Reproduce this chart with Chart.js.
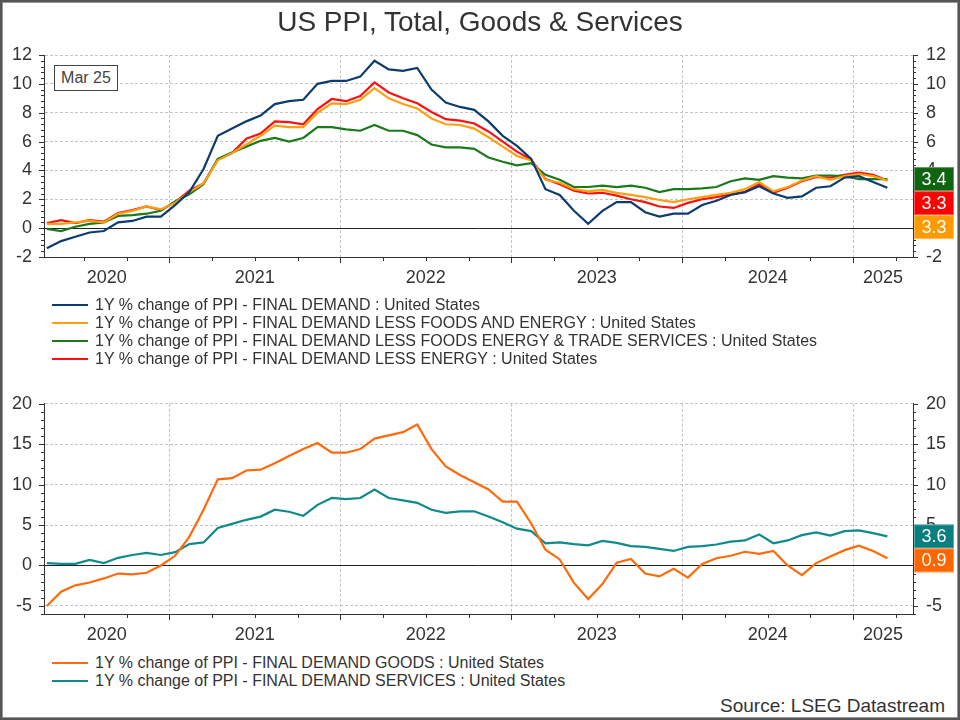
<!DOCTYPE html>
<html>
<head>
<meta charset="utf-8">
<script src="https://cdn.jsdelivr.net/npm/chart.js@4.4.1/dist/chart.umd.min.js"></script>
<style>
html,body{margin:0;padding:0;background:#fff;}
#frame{position:relative;width:960px;height:720px;overflow:hidden;background:#fff;font-family:"Liberation Sans",Arial,sans-serif;color:#333;}
#frameBorder{position:absolute;left:0;top:0;width:960px;height:720px;box-sizing:border-box;border:2px solid #555;box-shadow:0 0 0 1px #999 inset;pointer-events:none;z-index:5;}
canvas{position:absolute;left:0;}
#c1{top:0;}
#c2{top:380px;}
#title{position:absolute;left:0;width:960px;top:6px;text-align:center;font-size:28px;line-height:32px;color:#333;}
#stamp{position:absolute;left:54px;top:65px;width:64px;height:26px;box-sizing:border-box;border:1px solid #444;font-size:16px;line-height:24px;text-align:center;color:#444;background:#fff;z-index:3;}
.legend{position:absolute;left:52px;z-index:3;}
.row{height:18px;line-height:18px;font-size:16px;white-space:nowrap;color:#333;}
.sw{display:inline-block;width:36px;height:0;vertical-align:middle;margin-right:7px;position:relative;top:-1px;}
#leg1{top:296px;}
#leg2{top:654px;}
#source{position:absolute;right:15px;top:694px;font-size:19px;line-height:24px;color:#333;}
</style>
</head>
<body>
<div id="frame">
  <canvas id="c1" width="960" height="300"></canvas>
  <canvas id="c2" width="960" height="270"></canvas>
  <div id="title">US PPI, Total, Goods &amp; Services</div>
  <div id="stamp">Mar 25</div>
  <div class="legend" id="leg1"></div>
  <div class="legend" id="leg2"></div>
  <div id="source">Source: LSEG Datastream</div>
  <div id="frameBorder"></div>
</div>
<script>
// ---- Data: monthly, Apr 2020 .. Mar 2025 (1Y % change) ----
const firstMonth = 3;          // months after Jan 2020 (Apr 2020)
const yearLabels = ['2020','2021','2022','2023','2024','2025'];
const topTicks = [-2,0,2,4,6,8,10,12];
const bottomTicks = [-5,0,5,10,15,20];

const finalDemand = [-1.4,-0.9,-0.6,-0.3,-0.2,0.4,0.5,0.8,0.8,1.6,
  2.5,4.1,6.4,6.9,7.4,7.8,8.6,8.8,8.9,10.0,
  10.2,10.2,10.5,11.6,11.0,10.9,11.1,9.6,8.7,8.4,
  8.2,7.4,6.4,5.7,4.8,2.7,2.3,1.2,0.3,1.2,
  1.8,1.8,1.1,0.8,1.0,1.0,1.6,1.9,2.3,2.5,
  2.9,2.4,2.1,2.2,2.8,2.9,3.5,3.6,3.2,2.8];
const lessFoodsEnergy = [0.3,0.3,0.4,0.5,0.4,1.0,1.2,1.5,1.3,1.75,
  2.5,3.1,4.7,5.2,5.8,6.4,7.1,7.0,7.0,8.0,
  8.65,8.6,8.9,9.7,9.0,8.6,8.3,7.6,7.2,7.15,
  6.9,6.3,5.65,5.0,4.7,3.35,3.15,2.7,2.55,2.65,
  2.45,2.3,2.15,1.95,1.8,2.0,2.15,2.3,2.45,2.7,
  3.2,2.55,2.85,3.3,3.6,3.35,3.6,3.75,3.6,3.3];
const lessFoodsEnergyTrade = [-0.05,-0.2,0.1,0.3,0.4,0.85,0.9,1.0,1.2,1.85,
  2.35,3.05,4.8,5.25,5.65,6.05,6.25,6.0,6.25,7.0,
  7.0,6.85,6.75,7.15,6.75,6.75,6.45,5.8,5.6,5.6,
  5.5,4.9,4.6,4.35,4.5,3.7,3.35,2.85,2.85,2.95,
  2.85,2.95,2.8,2.5,2.7,2.7,2.75,2.85,3.25,3.45,
  3.35,3.6,3.5,3.45,3.65,3.65,3.6,3.4,3.4,3.4];
const lessEnergy = [0.35,0.55,0.35,0.55,0.45,1.05,1.25,1.5,1.25,1.8,
  2.6,3.1,4.75,5.2,6.2,6.55,7.4,7.35,7.2,8.25,
  8.95,8.8,9.15,10.1,9.4,9.0,8.65,8.05,7.55,7.45,
  7.25,6.7,6.0,5.3,4.75,3.4,3.05,2.6,2.4,2.45,
  2.25,2.0,1.8,1.5,1.4,1.75,2.0,2.15,2.35,2.5,
  3.05,2.45,2.8,3.25,3.55,3.5,3.7,3.85,3.7,3.3];
const goods = [-5.0,-3.25,-2.45,-2.1,-1.6,-1.0,-1.1,-0.9,0.0,1.2,
  3.55,6.9,10.65,10.8,11.75,11.85,12.65,13.55,14.4,15.15,
  13.95,13.95,14.4,15.7,16.1,16.5,17.45,14.4,12.25,11.2,
  10.3,9.4,7.9,7.9,5.2,1.95,0.75,-2.15,-4.15,-2.3,
  0.35,0.8,-1.0,-1.35,-0.4,-1.5,0.2,0.9,1.2,1.7,
  1.45,1.8,0.0,-1.2,0.3,1.1,1.9,2.45,1.8,0.9];
const services = [0.3,0.2,0.2,0.7,0.3,0.95,1.3,1.55,1.3,1.65,
  2.65,2.85,4.65,5.15,5.65,6.05,6.9,6.65,6.15,7.5,
  8.35,8.2,8.35,9.4,8.35,8.05,7.75,6.9,6.5,6.7,
  6.7,6.05,5.35,4.55,4.25,2.75,2.85,2.65,2.5,3.05,
  2.8,2.4,2.3,2.05,1.8,2.3,2.4,2.6,2.95,3.1,
  3.85,2.75,3.1,3.75,4.1,3.7,4.25,4.35,4.0,3.6];

const topNames = [
  '1Y % change of PPI - FINAL DEMAND : United States',
  '1Y % change of PPI - FINAL DEMAND LESS FOODS AND ENERGY : United States',
  '1Y % change of PPI - FINAL DEMAND LESS FOODS ENERGY & TRADE SERVICES : United States',
  '1Y % change of PPI - FINAL DEMAND LESS ENERGY : United States'
];
const bottomNames = [
  '1Y % change of PPI - FINAL DEMAND GOODS : United States',
  '1Y % change of PPI - FINAL DEMAND SERVICES : United States'
];

// ---- styling ----
const C_FD = '#0c3c6e', C_LFE = '#ff9f10', C_LFET = '#1a7a1a', C_LE = '#ff1010';
const C_GOODS = '#ff6a0a', C_SERV = '#108a8a';
const BOX = {fd:'#0c3c6e', lfe:'#ff9900', lfet:'#0f640f', le:'#ff0000', goods:'#ff6600', serv:'#0a7f7f'};
const FONT = '"Liberation Sans", Arial, sans-serif';
Chart.defaults.font.family = FONT;
Chart.defaults.color = '#333';

const monthPos = 0.4; // point drawn slightly inside its month
function pts(arr){ return arr.map((v,i)=>({x: firstMonth + i + monthPos, y: v})); }

const xMin = 3.2, xMax = 64.2;
const quarterTicks = []; for (let m = 6; m <= 63; m += 3) quarterTicks.push(m);
// label centres: middle of each year's visible span
function yearCentre(k){ const s = Math.max(xMin, k*12), e = Math.min(xMax, (k+1)*12); return (s+e)/2; }
const labelPos = yearLabels.map((_,k)=>yearCentre(k));

function xScale(h){
  return {
    type:'linear', position:'bottom', min:xMin, max:xMax,
    afterBuildTicks(s){
      const vals = Array.from(new Set(quarterTicks.concat(labelPos))).sort((a,b)=>a-b);
      s.ticks = vals.map(v=>({value:v}));
    },
    afterFit(s){ s.height = h; },
    ticks:{ autoSkip:false, maxRotation:0, minRotation:0, padding:10, font:{size:18}, color:'#333',
      callback(v){ const k = labelPos.findIndex(p=>Math.abs(p-v)<1e-6); return k>=0 ? yearLabels[k] : ''; } },
    grid:{ drawTicks:false, lineWidth:1,
      color(ctx){ return (ctx.tick && Math.abs(ctx.tick.value % 12) < 1e-6) ? '#c4c4c4' : 'rgba(0,0,0,0)'; } },
    border:{ display:true, color:'#333', width:1, dash:[3,2] }
  };
}
function yScale(pos, min, max, ticks, w, pad, gridOn){
  return {
    type:'linear', position:pos, min:min, max:max,
    afterBuildTicks(s){ s.ticks = ticks.map(v=>({value:v})); },
    afterFit(s){ s.width = w; },
    ticks:{ padding:pad, font:{size:18}, color:'#333' },
    grid:{ display:gridOn, drawTicks:false, lineWidth:1,
      color(ctx){ return (ctx.tick && (ctx.tick.value === 0 || ctx.tick.value === min)) ? 'rgba(0,0,0,0)' : '#c4c4c4'; } },
    border:{ display:true, color:'#333', width:1, dash:[3,2] }
  };
}

const decor = {
  id:'decor',
  beforeDatasetsDraw(chart, args, o){
    const {ctx, chartArea:a} = chart; const y = chart.scales.y;
    const py = Math.round(y.getPixelForValue(0)) + 0.5;
    ctx.save(); ctx.strokeStyle = '#222'; ctx.lineWidth = 1; ctx.setLineDash([]);
    ctx.beginPath(); ctx.moveTo(a.left, py); ctx.lineTo(a.right, py); ctx.stroke(); ctx.restore();
  },
  afterDraw(chart, args, o){
    const {ctx, chartArea:a} = chart; const y = chart.scales.y, x = chart.scales.x;
    ctx.save(); ctx.strokeStyle = '#333'; ctx.lineWidth = 1; ctx.setLineDash([]);
    ctx.beginPath();
    const n = Math.round((y.max - y.min)/o.minor);
    for (let k = 0; k <= n; k++){
      const v = y.min + k*o.minor;
      const major = Math.abs(v/o.major - Math.round(v/o.major)) < 1e-6;
      const len = major ? 5 : 3;
      const py = Math.round(y.getPixelForValue(v)) + 0.5;
      ctx.moveTo(a.left - len, py); ctx.lineTo(a.left, py);
      ctx.moveTo(a.right, py); ctx.lineTo(a.right + len, py);
    }
    quarterTicks.forEach(v=>{
      const px = Math.round(x.getPixelForValue(v)) + 0.5;
      const len = (v % 12 === 0) ? 6 : 4;
      ctx.moveTo(px, a.bottom); ctx.lineTo(px, a.bottom + len);
    });
    ctx.stroke();
    // end-value boxes
    let prevBottom = -Infinity;
    const h = 24;
    o.boxes.forEach(b=>{
      const data = chart.data.datasets[b.ds].data;
      const v = data[data.length-1].y;
      let cy = y.getPixelForValue(v);
      if (cy - h/2 < prevBottom) cy = prevBottom + h/2;
      const top = cy - h/2;
      ctx.fillStyle = b.color;
      ctx.fillRect(a.right + 1, top, 40, h);
      ctx.strokeStyle = 'rgba(255,255,255,0.35)';
      ctx.strokeRect(a.right + 1.5, top + 0.5, 39, h - 1);
      ctx.fillStyle = '#fff';
      ctx.font = '18px ' + FONT;
      ctx.textAlign = 'center'; ctx.textBaseline = 'middle';
      ctx.fillText(v.toFixed(1), a.right + 21, cy + 1);
      prevBottom = top + h;
    });
    ctx.restore();
  }
};

function line(label, data, color){
  return { label, data: pts(data), borderColor: color, backgroundColor: color, borderWidth: 2.2,
    pointRadius: 0, tension: 0, fill: false };
}

new Chart(document.getElementById('c1'), {
  type:'line',
  data:{ datasets:[
    line(topNames[0], finalDemand, C_FD),
    line(topNames[1], lessFoodsEnergy, C_LFE),
    line(topNames[2], lessFoodsEnergyTrade, C_LFET),
    line(topNames[3], lessEnergy, C_LE)
  ]},
  options:{
    responsive:false, animation:false, devicePixelRatio:1,
    layout:{ padding:{ top:55, left:0, right:0, bottom:0 } },
    scales:{ x: xScale(43), y: yScale('left', -2, 12, topTicks, 44, 12, true), y2: yScale('right', -2, 12, topTicks, 47, 13, false) },
    plugins:{ legend:{display:false}, tooltip:{enabled:false},
      decor:{ minor:0.4, major:2, boxes:[ {ds:2, color:BOX.lfet}, {ds:3, color:BOX.le}, {ds:1, color:BOX.lfe} ] } }
  },
  plugins:[decor]
});

new Chart(document.getElementById('c2'), {
  type:'line',
  data:{ datasets:[
    line(bottomNames[0], goods, C_GOODS),
    line(bottomNames[1], services, C_SERV)
  ]},
  options:{
    responsive:false, animation:false, devicePixelRatio:1,
    layout:{ padding:{ top:20, left:0, right:0, bottom:0 } },
    scales:{ x: xScale(36), y: yScale('left', -6, 20, bottomTicks, 44, 12, true), y2: yScale('right', -6, 20, bottomTicks, 47, 13, false) },
    plugins:{ legend:{display:false}, tooltip:{enabled:false},
      decor:{ minor:1, major:5, boxes:[ {ds:1, color:BOX.serv}, {ds:0, color:BOX.goods} ] } }
  },
  plugins:[decor]
});

// HTML legends
function legend(el, names, colors){
  names.forEach((n,i)=>{
    const r = document.createElement('div'); r.className = 'row';
    const s = document.createElement('span'); s.className = 'sw'; s.style.borderTop = '2.5px solid ' + colors[i];
    r.appendChild(s); r.appendChild(document.createTextNode(n)); el.appendChild(r);
  });
}
legend(document.getElementById('leg1'), topNames, [C_FD, C_LFE, C_LFET, C_LE]);
legend(document.getElementById('leg2'), bottomNames, [C_GOODS, C_SERV]);
</script>
</body>
</html>
